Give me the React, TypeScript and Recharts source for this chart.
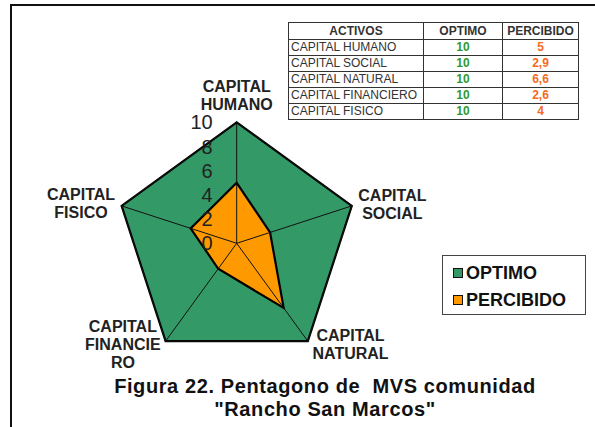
import React from "react";
import {
  Legend,
  PolarAngleAxis,
  PolarGrid,
  PolarRadiusAxis,
  Radar,
  RadarChart,
} from "recharts";

const activos = [
  "CAPITAL HUMANO",
  "CAPITAL SOCIAL",
  "CAPITAL NATURAL",
  "CAPITAL FINANCIERO",
  "CAPITAL FISICO",
];
const axisLabels = [
  ["CAPITAL", "HUMANO"],
  ["CAPITAL", "SOCIAL"],
  ["CAPITAL", "NATURAL"],
  ["CAPITAL", "FINANCIE", "RO"],
  ["CAPITAL", "FISICO"],
];
const optimo = [10, 10, 10, 10, 10];
const percibido = [5, 2.9, 6.6, 2.6, 4];
const radiusTicks = [0, 2, 4, 6, 8, 10];

const GREEN = "#339966";
const ORANGE = "#FF9900";
const FONT = "'Liberation Sans', Arial, sans-serif";

const data = activos.map((a, i) => ({
  activo: a,
  optimo: optimo[i],
  percibido: percibido[i],
}));

const fmt = (v: number) => String(v).replace(".", ",");

// label centre offsets from the tick anchor, per axis
const labelOffsets = [
  { dx: 0, dy: -19 },
  { dx: 33, dy: 1 },
  { dx: 38, dy: -3.5 },
  { dx: -38, dy: -3.5 },
  { dx: -33, dy: 0.5 },
];

const AngleTick = (props: any) => {
  const { x, y, index } = props;
  const lines = axisLabels[index] || [];
  const off = labelOffsets[index] || { dx: 0, dy: 0 };
  const lh = 18;
  const top = y + off.dy - ((lines.length - 1) * lh) / 2;
  return (
    <text
      textAnchor="middle"
      fontFamily={FONT}
      fontWeight="bold"
      fontSize={16}
      fill="#222"
    >
      {lines.map((l, i) => (
        <tspan key={i} x={x + off.dx} y={top + i * lh} dominantBaseline="central">
          {l}
        </tspan>
      ))}
    </text>
  );
};

const RadiusTick = (props: any) => {
  const { x, y, payload } = props;
  return (
    <text
      x={x - 24}
      y={y}
      textAnchor="end"
      dominantBaseline="central"
      fontFamily={FONT}
      fontSize={20}
      fill="#222"
    >
      {payload.value}
    </text>
  );
};

const LegendBox = () => (
  <div
    style={{
      width: 144,
      height: 60,
      boxSizing: "border-box",
      border: "1.5px solid #444",
      fontFamily: FONT,
      fontWeight: "bold",
      fontSize: 18,
      color: "#111",
    }}
  >
    {[
      { name: "OPTIMO", color: GREEN, top: 9 },
      { name: "PERCIBIDO", color: ORANGE, top: 36 },
    ].map((it) => (
      <div
        key={it.name}
        style={{ position: "absolute", left: 11, top: it.top, display: "flex", alignItems: "center" }}
      >
        <span
          style={{
            display: "inline-block",
            width: 8,
            height: 8,
            background: it.color,
            border: "1.5px solid #111",
            marginRight: 3,
          }}
        />
        <span style={{ lineHeight: "18px" }}>{it.name}</span>
      </div>
    ))}
  </div>
);

const cell = {
  border: "1.5px solid #333",
  padding: "0 2px",
  height: 15,
  lineHeight: "15px",
  whiteSpace: "nowrap" as const,
};

const geom = {
  width: 595,
  height: 427,
  cx: 236.7,
  cy: 243.3,
  outerRadius: 121,
  startAngle: 90,
  endAngle: -270,
};

export default function App() {
  return (
    <div
      style={{
        position: "absolute",
        left: 0,
        top: 0,
        width: 595,
        height: 427,
        background: "#fff",
        overflow: "hidden",
        fontFamily: FONT,
      }}
    >
      <div
        style={{
          position: "absolute",
          left: 10,
          top: 4,
          width: 600,
          height: 440,
          borderLeft: "2px solid #111",
          borderTop: "2px solid #111",
        }}
      />
      <div style={{ position: "absolute", left: 0, top: 0 }}>
        <RadarChart {...geom} data={data}>
          <PolarAngleAxis
            dataKey="activo"
            tick={AngleTick}
            tickLine={false}
            axisLine={false}
          />
          <Radar
            name="OPTIMO"
            dataKey="optimo"
            fill={GREEN}
            fillOpacity={1}
            stroke="#000"
            strokeWidth={2.2}
            isAnimationActive={false}
          />
          <Radar
            name="PERCIBIDO"
            dataKey="percibido"
            fill={ORANGE}
            fillOpacity={1}
            stroke="#000"
            strokeWidth={2.2}
            isAnimationActive={false}
          />
          <PolarRadiusAxis
            angle={90}
            domain={[0, 10]}
            ticks={radiusTicks as any}
            tickCount={6}
            tick={RadiusTick}
            tickLine={false}
            axisLine={false}
          />
          <Legend
            content={() => <LegendBox />}
            wrapperStyle={{ position: "absolute", left: 442, top: 255, width: 144, height: 60 }}
          />
        </RadarChart>
      </div>

      {/* spokes sit above the filled areas */}
      <div style={{ position: "absolute", left: 0, top: 0, pointerEvents: "none" }}>
        <RadarChart {...geom} data={data}>
          <PolarGrid gridType="polygon" polarRadius={[121]} stroke="#111" strokeWidth={1} />
          <PolarAngleAxis dataKey="activo" tick={false} tickLine={false} axisLine={false} />
        </RadarChart>
      </div>

      <table
        style={{
          position: "absolute",
          left: 288,
          top: 22,
          borderCollapse: "collapse",
          fontSize: 12,
          fontFamily: FONT,
          color: "#333",
        }}
      >
        <thead>
          <tr style={{ fontWeight: "bold" }}>
            <td style={{ ...cell, width: 130, height: 16, textAlign: "center" }}>ACTIVOS</td>
            <td style={{ ...cell, width: 74, height: 16, textAlign: "center" }}>OPTIMO</td>
            <td style={{ ...cell, width: 71, height: 16, textAlign: "center" }}>PERCIBIDO</td>
          </tr>
        </thead>
        <tbody>
          {activos.map((a, i) => (
            <tr key={a}>
              <td style={cell}>{a}</td>
              <td style={{ ...cell, textAlign: "center", color: "#2E9A2E", fontWeight: "bold" }}>
                {optimo[i]}
              </td>
              <td style={{ ...cell, textAlign: "center", color: "#F46A1E", fontWeight: "bold" }}>
                {fmt(percibido[i])}
              </td>
            </tr>
          ))}
        </tbody>
      </table>

      <div
        style={{
          position: "absolute",
          left: 0,
          top: 375,
          width: 650,
          textAlign: "center",
          fontWeight: "bold",
          fontSize: 20,
          lineHeight: "23px",
          color: "#111",
          whiteSpace: "pre",
          letterSpacing: 0.6,
        }}
      >
        {"Figura 22. Pentagono de  MVS comunidad\n\"Rancho San Marcos\""}
      </div>
    </div>
  );
}
